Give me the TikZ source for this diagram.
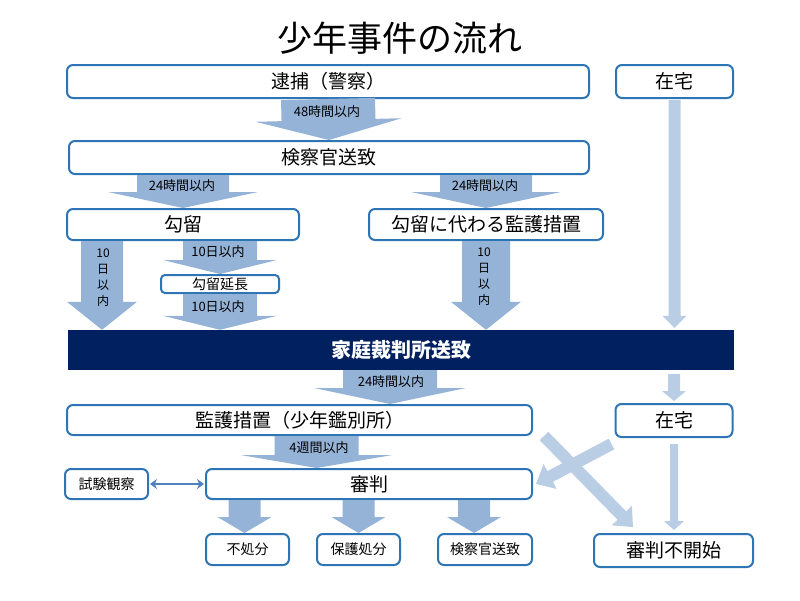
\documentclass[tikz,border=0pt]{standalone}
\usepackage{fontspec}
\setmainfont{Noto Sans CJK JP}
\usetikzlibrary{calc,arrows.meta}

\definecolor{boxblue}{RGB}{46,117,182}
\definecolor{arrowblue}{RGB}{149,179,215}
\definecolor{paleblue}{RGB}{185,205,229}
\definecolor{navyblue}{RGB}{0,32,96}
\definecolor{linkblue}{RGB}{79,129,189}

% block arrow: [colour] from, to, half shaft, half head, head length (in pt)
\newcommand\fatarrow[6][arrowblue]{%
  \coordinate (fa-s) at (#2);
  \coordinate (fa-t) at (#3);
  \coordinate (fa-h) at ($(fa-t)!#6pt!(fa-s)$);
  \fill[#1] ($(fa-s)!#4pt!90:(fa-t)$) -- ($(fa-h)!#4pt!-90:(fa-s)$)
    -- ($(fa-h)!#5pt!-90:(fa-s)$) -- (fa-t) -- ($(fa-h)!#5pt!90:(fa-s)$)
    -- ($(fa-h)!#4pt!90:(fa-s)$) -- ($(fa-s)!#4pt!-90:(fa-t)$) -- cycle;
}

\begin{document}
\begin{tikzpicture}[x=1pt, y=-1pt,
  box/.style={draw=boxblue, line width=2pt, rounded corners=6pt, fill=white,
    inner sep=0pt, font=\fontsize{19}{19}\selectfont},
  smallbox/.style={box, font=\fontsize{14}{14}\selectfont},
  lbl/.style={inner sep=0pt, font=\fontsize{13}{13}\selectfont},
  vlbl/.style={lbl, align=center, font=\fontsize{12}{16}\selectfont}]
\useasboundingbox (0,0) rectangle (800,600);

\node[inner sep=0pt, font=\fontsize{35}{35}\selectfont] (title) at (400,38) {少年事件の流れ};

% boxes
\node[box, minimum width=522pt, minimum height=33pt] (taiho) at (328,81.5) {逮捕（警察）};
\node[box, minimum width=117pt, minimum height=33pt] (zaitaku1) at (674.5,81.5) {在宅};
\node[box, minimum width=520pt, minimum height=33pt] (kensatsu) at (329,157.5) {検察官送致};
\node[box, minimum width=232pt, minimum height=31pt] (kouryu) at (183,224.5) {勾留};
\node[box, minimum width=234pt, minimum height=31pt] (kawari) at (486,224.5) {勾留に代わる監護措置};
\node[smallbox, minimum width=118pt, minimum height=18pt, rounded corners=4pt] (encho) at (220,284) {勾留延長};
\node[fill=navyblue, text=white, inner sep=0pt, minimum width=666pt, minimum height=40pt,
  font=\fontsize{20}{20}\selectfont\bfseries] (katei) at (401,350) {家庭裁判所送致};
\node[box, minimum width=465pt, minimum height=30pt] (kango) at (299.5,420) {監護措置（少年鑑別所）};
\node[box, minimum width=117pt, minimum height=33pt] (zaitaku2) at (674,420.5) {在宅};
\node[smallbox, minimum width=83pt, minimum height=30pt] (shiken) at (106.5,484) {試験観察};
\node[box, minimum width=326pt, minimum height=30pt] (shinpan) at (369,484) {審判};
\node[smallbox, minimum width=83pt, minimum height=31pt] (fusho) at (247.5,549.5) {不処分};
\node[smallbox, minimum width=83pt, minimum height=31pt] (hogo) at (358.5,549.5) {保護処分};
\node[smallbox, minimum width=94pt, minimum height=31pt] (gyakuso) at (485,549.5) {検察官送致};
\node[box, minimum width=159pt, minimum height=33pt] (fukaishi) at (673.5,550.5) {審判不開始};

% block arrows with time limits
\fatarrow{taiho.south}{kensatsu.north}{47}{73}{20}
\node[lbl] (l48) at (327,112) {48時間以内};
\fatarrow{kensatsu.south -| kouryu.north}{kouryu.north}{46}{75}{16}
\node[lbl] (l24a) at (182,186) {24時間以内};
\fatarrow{kensatsu.south -| kawari.north}{kawari.north}{46}{75}{16}
\node[lbl] (l24b) at (485,186) {24時間以内};

\coordinate (k-out) at ([xshift=36pt]kouryu.south west);
\fatarrow{k-out}{k-out |- katei.north}{21}{35}{28}
\node[vlbl] (l10a) at (103,278) {10\\日\\以\\内};
\fatarrow{kouryu.south -| encho.north}{encho.north}{37}{57}{14}
\node[lbl] (l10b) at (218,252) {10日以内};
\fatarrow{encho.south}{encho.south |- katei.north}{37}{57}{14}
\node[lbl] (l10c) at (218,307) {10日以内};
\fatarrow{kawari.south}{kawari.south |- katei.north}{24}{35}{28}
\node[vlbl] (l10d) at (484,277) {10\\日\\以\\内};

\coordinate (kt-out) at ([xshift=-11pt]katei.south);
\fatarrow{kt-out}{kt-out |- kango.north}{47}{76}{16}
\node[lbl] (l24c) at (391,382) {24時間以内};
\coordinate (kg-out) at ([xshift=17pt]kango.south);
\fatarrow{kg-out}{kg-out |- shinpan.north}{42}{76}{13}
\node[lbl] (l4w) at (319,448) {4週間以内};

% outcomes of the hearing
\foreach \t/\dx in {fusho/-3, hogo/0, gyakuso/-11}
{
  \coordinate (sp-\t) at ([xshift=\dx pt]shinpan.south -| \t.north);
  \fatarrow{sp-\t}{sp-\t |- \t.north}{16}{27}{16}
}

% pale arrows on the right
\fatarrow[paleblue]{[yshift=-1pt]zaitaku1.south}{[yshift=2pt]zaitaku1.south |- katei.north}{6}{12}{12}
\coordinate (zt-top) at (katei.south -| zaitaku2.north);
\fatarrow[paleblue]{[yshift=-4pt]zt-top}{[yshift=2pt]zaitaku2.north}{6}{12}{10}
\fatarrow[paleblue]{[yshift=-6pt]zaitaku2.south}{[yshift=3pt]zaitaku2.south |- fukaishi.north}{4}{10}{9}
\fatarrow[paleblue]{[xshift=11pt]kango.south east}{[shift={(40,-6)}]fukaishi.north west}{6}{14}{16}
\fatarrow[paleblue]{[shift={(-3,6)}]zaitaku2.south west}{[xshift=3pt]shinpan.east}{6}{14}{16}

\draw[linkblue, line width=2pt, {Stealth[length=7pt,width=10pt]}-{Stealth[length=7pt,width=10pt]}]
  ([xshift=1pt]shiken.east) -- ([xshift=-1pt]shinpan.west);
\end{tikzpicture}
\end{document}
